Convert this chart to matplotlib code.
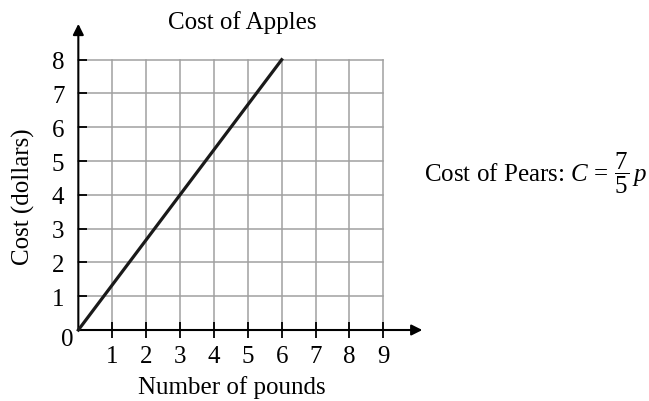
import matplotlib
matplotlib.use("Agg")
import matplotlib.pyplot as plt

# data
pounds = [0, 6]
cost = [0, 8]
x_ticks = [1, 2, 3, 4, 5, 6, 7, 8, 9]
y_ticks = [1, 2, 3, 4, 5, 6, 7, 8]
x_max, y_max = 9, 8

plt.rcParams['font.family'] = 'Liberation Serif'
plt.rcParams['mathtext.fontset'] = 'custom'
plt.rcParams['mathtext.rm'] = 'Liberation Serif'
plt.rcParams['mathtext.it'] = 'Liberation Serif:italic'

fs = 18

fig = plt.figure(figsize=(6.49, 4.02), dpi=100)
ax = fig.add_axes([0.1207, 0.1766, 0.47, 0.6724])
ax.set_xlim(0, x_max)
ax.set_ylim(0, y_max)
for s in ax.spines.values():
    s.set_visible(False)

# grid
for x in x_ticks:
    ax.plot([x, x], [0, y_max], color='#a0a0a0', lw=1.1, zorder=1, clip_on=False)
for y in y_ticks:
    ax.plot([0, x_max], [y, y], color='#a0a0a0', lw=1.1, zorder=1, clip_on=False)

# axes with arrows
ax.annotate('', xy=(10.15, 0), xytext=(0, 0), annotation_clip=False,
            arrowprops=dict(arrowstyle='-|>', mutation_scale=16, lw=1.5,
                            color='black', shrinkA=0, shrinkB=0))
ax.annotate('', xy=(0, 9.06), xytext=(0, 0), annotation_clip=False,
            arrowprops=dict(arrowstyle='-|>', mutation_scale=16, lw=1.5,
                            color='black', shrinkA=0, shrinkB=0))

ax.plot(pounds, cost, color='#1a1a1a', lw=2.3, zorder=3, clip_on=False)

ax.set_xticks(x_ticks)
ax.set_yticks(y_ticks)
ax.tick_params(axis='x', direction='inout', length=11, width=1.3, pad=5, labelsize=fs)
ax.tick_params(axis='y', direction='in', length=6.5, width=1.3, pad=10, labelsize=fs)
ax.text(-0.33, -0.27, '0', ha='center', va='center', fontsize=fs)

fig.text(0.374, 0.943, 'Cost of Apples', ha='center', va='center', fontsize=fs)
fig.text(0.3575, 0.035, 'Number of pounds', ha='center', va='center', fontsize=fs)
fig.text(0.036, 0.51, 'Cost (dollars)', ha='center', va='center', rotation=90, fontsize=fs)
fig.text(0.653, 0.548, r'Cost of Pears: $C\,=\,\dfrac{7}{5}\,p$', ha='left', va='baseline', fontsize=fs)

fig.savefig('out.png', dpi=100)
